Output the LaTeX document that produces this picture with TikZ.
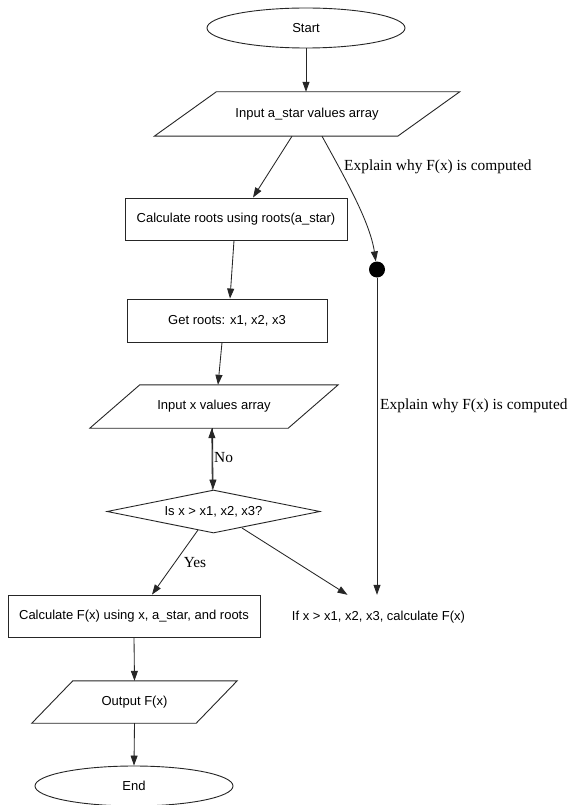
\documentclass[tikz,border=0pt]{standalone}
\usepackage{fontspec}
\setmainfont{Liberation Sans}
\newfontfamily\serifx{Liberation Serif}
\usetikzlibrary{arrows.meta,shapes.geometric,calc}
\begin{document}
\begin{tikzpicture}[x=1pt,y=-1pt,
  every node/.style={font=\fontsize{13}{15}\selectfont, inner sep=0pt},
  lc/.style={draw=black!85, line width=0.9pt},
  oval/.style={ellipse, lc, minimum width=198pt, minimum height=40pt},
  box/.style={rectangle, lc, minimum height=42pt},
  para/.style={rectangle, minimum height=43pt},
  dia/.style={diamond, lc, minimum width=213pt, minimum height=43pt, aspect=4.95},
  edge/.style={draw=black!85, line width=0.85pt, -{Triangle[length=10pt,width=7pt]}},
  elabel/.style={font=\serifx\fontsize{15.4}{17}\selectfont}
]
\useasboundingbox (0,0) rectangle (567,805);
\fill[white] (0,0) rectangle (567,805);

% nodes
\node[oval] (start) at (306,28) {Start};
\node[para, minimum width=243pt, minimum height=44pt] (in1) at (307,114) {Input a\_star values array};
\node[box, minimum width=222pt] (calcr) at (236,219) {Calculate roots using roots(a\_star)};
\node[box, minimum width=200pt, minimum height=43pt] (getr) at (227,320.5) {Get roots: x1, x2, x3};
\node[para, minimum width=198pt] (in2) at (214,406.5) {Input x values array};
\node[dia] (dec) at (213.5,511.5) {Is x > x1, x2, x3?};
\node[box, minimum width=252pt] (calcf) at (134,616) {Calculate F(x) using x, a\_star, and roots};
\node[minimum height=44pt] (txt) at (378.5,617) {If x > x1, x2, x3, calculate F(x)};
\node[para, minimum width=164pt, minimum height=42pt] (out) at (134.5,702) {Output F(x)};
\node[oval] (end) at (134,786) {End};
\node[circle, fill=black, minimum size=16pt] (dot) at (377,269.5) {};

% parallelogram outlines
\draw[lc] ([xshift=31pt]in1.north west) -- ([xshift=31pt]in1.north east)
  -- ([xshift=-31pt]in1.south east) -- ([xshift=-31pt]in1.south west) -- cycle;
\draw[lc] ([xshift=25pt]in2.north west) -- ([xshift=25pt]in2.north east)
  -- ([xshift=-25pt]in2.south east) -- ([xshift=-25pt]in2.south west) -- cycle;
\draw[lc] ([xshift=20.5pt]out.north west) -- ([xshift=20.5pt]out.north east)
  -- ([xshift=-20.5pt]out.south east) -- ([xshift=-20.5pt]out.south west) -- cycle;

% connectors
\draw[edge] (start.south) -- ([xshift=-1pt]in1.north);
\draw[edge] ([xshift=-15pt]in1.south) -- ([xshift=17pt]calcr.north);
\draw[edge] ([xshift=15pt]in1.south) .. controls (345,178) and (370,222) .. (dot);
\node[elabel, anchor=west] (l1) at (344,167) {Explain why F(x) is computed};
\draw[edge] (dot) -- (dot |- txt.north);
\node[elabel, anchor=west] (l2) at (380,406) {Explain why F(x) is computed};
\draw[edge] ([xshift=-2pt]calcr.south) -- ([xshift=3pt]getr.north);
\draw[edge] ([xshift=-5pt]getr.south) -- ([xshift=4pt]in2.north);
\draw[edge] ([xshift=-1.2pt]dec.north) -- ([xshift=-2.2pt]in2.south);
\draw[edge] ([xshift=-1.5pt]in2.south) -- ([xshift=-0.5pt]dec.north);
\node[elabel, anchor=west] (lno) at (214,458) {No};
\draw[edge] (198,530) -- ([xshift=18pt]calcf.north);
\node[elabel] (lyes) at (195,563) {Yes};
\draw[edge] (242,528) -- ([xshift=-31pt]txt.north);
\draw[edge] (calcf.south) -- (out.north);
\draw[edge] (out.south) -- (end.north);
\end{tikzpicture}
\end{document}
